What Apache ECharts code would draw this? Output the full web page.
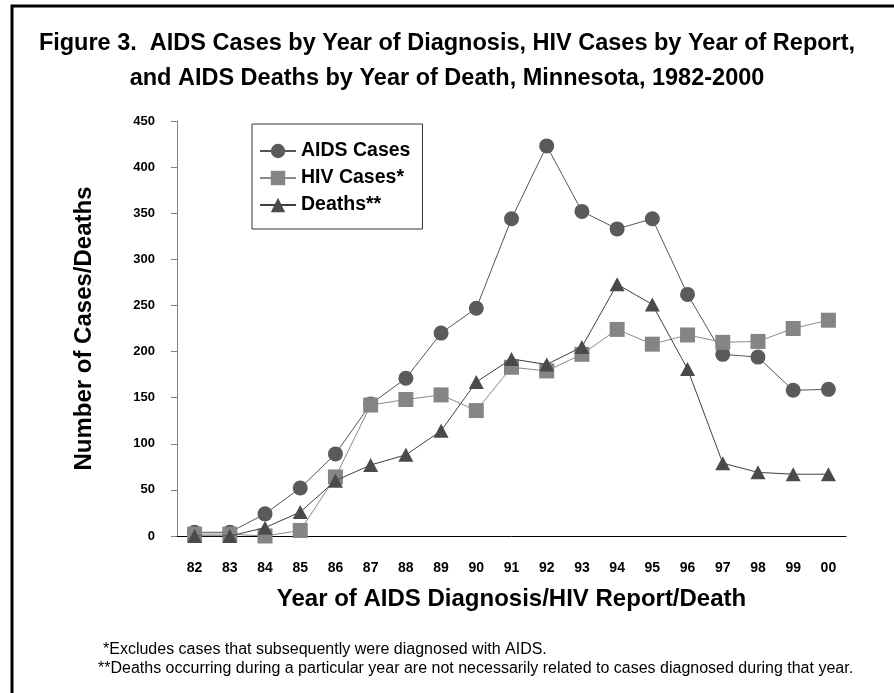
<!DOCTYPE html>
<html>
<head>
<meta charset="utf-8">
<script src="https://cdn.jsdelivr.net/npm/echarts@6/dist/echarts.min.js"></script>
<style>
    html, body {
        margin: 0;
        padding: 0;
        background: #fff;
    }
    #chart {
        width: 894px;
        height: 693px;
    }
</style>
</head>
<body>
<div id="chart"></div>
<script>
// year labels on the x axis
const years = ["82", "83", "84", "85", "86", "87", "88", "89", "90", "91",
    "92", "93", "94", "95", "96", "97", "98", "99", "00"];

// values
const aids_cases = [4, 4, 24, 52, 89, 143, 171, 220, 247, 344,
    423, 352, 333, 344, 262, 197, 194, 158, 159];
const hiv_cases = [2, 2, 0, 6, 64, 142, 148, 153, 136, 183,
    179, 197, 224, 208, 218, 210, 211, 225, 234];
const deaths = [0, 0, 9, 26, 60, 77, 88, 114, 167, 192,
    186, 205, 273, 251, 181, 79, 69, 67, 67];

const font = "'Liberation Sans', Arial, sans-serif";

let chart = echarts.init(document.getElementById("chart"));
chart.setOption({
    animation: false,
    title: {
        text: "Figure 3.  AIDS Cases by Year of Diagnosis, HIV Cases by Year of Report,\nand AIDS Deaths by Year of Death, Minnesota, 1982-2000",
        left: "center",
        top: 21,
        textStyle: {
            fontFamily: font,
            fontSize: 23.5,
            fontWeight: "bold",
            color: "#000",
            lineHeight: 35,
        },
    },
    legend: {
        orient: "vertical",
        left: 252,
        top: 124,
        padding: [17, 12, 14, 7],
        borderColor: "#333",
        borderWidth: 1,
        itemWidth: 36,
        itemHeight: 18,
        itemGap: 7,
        textStyle: {
            fontFamily: font,
            fontSize: 19.5,
            fontWeight: "bold",
            color: "#000",
            lineHeight: 18,
        },
        data: ["AIDS Cases", "HIV Cases*", "Deaths**"],
    },
    grid: {
        left: 177,
        top: 121,
        width: 669,
        height: 415,
    },
    xAxis: {
        type: "category",
        data: years,
        boundaryGap: true,
        name: "Year of AIDS Diagnosis/HIV Report/Death",
        nameLocation: "middle",
        nameGap: 51,
        nameTextStyle: {
            fontFamily: font,
            fontSize: 24,
            fontWeight: "bold",
            color: "#000",
        },
        axisLine: { lineStyle: { color: "#000", width: 1 } },
        axisTick: { interval: 0, length: 5, lineStyle: { color: "#000" } },
        axisLabel: {
            interval: 0,
            margin: 25,
            fontFamily: font,
            fontSize: 14,
            fontWeight: "bold",
            color: "#000",
        },
        splitLine: { show: false },
    },
    yAxis: {
        type: "value",
        min: 0,
        max: 450,
        interval: 50,
        name: "Number of Cases/Deaths",
        nameLocation: "middle",
        nameGap: 81,
        nameTextStyle: {
            fontFamily: font,
            fontSize: 24,
            fontWeight: "bold",
            color: "#000",
        },
        axisLine: { show: true, lineStyle: { color: "#808080", width: 1 } },
        axisTick: { show: true, length: 6, lineStyle: { color: "#808080" } },
        axisLabel: {
            margin: 22,
            fontFamily: font,
            fontSize: 13,
            fontWeight: "bold",
            color: "#000",
        },
        splitLine: { show: false },
    },
    graphic: [
        {
            type: "rect",
            shape: { x: 12, y: 6, width: 900, height: 700 },
            style: { fill: "none", stroke: "#000", lineWidth: 3 },
        },
        {
            type: "text",
            left: 103,
            top: 642,
            style: {
                text: "*Excludes cases that subsequently were diagnosed with AIDS.",
                font: "16px " + font,
                fill: "#000",
            },
        },
        {
            type: "text",
            left: 98,
            top: 661,
            style: {
                text: "**Deaths occurring during a particular year are not necessarily related to cases diagnosed during that year.",
                font: "16px " + font,
                fill: "#000",
            },
        },
    ],
    series: [
        {
            name: "AIDS Cases",
            type: "line",
            data: aids_cases,
            symbol: "circle",
            symbolSize: 15,
            z: 3,
            itemStyle: { color: "#5a5a5a" },
            lineStyle: { color: "#555", width: 1 },
        },
        {
            name: "HIV Cases*",
            type: "line",
            data: hiv_cases,
            symbol: "rect",
            symbolSize: 15,
            z: 4,
            itemStyle: { color: "#858585" },
            lineStyle: { color: "#8a8a8a", width: 1 },
        },
        {
            name: "Deaths**",
            type: "line",
            data: deaths,
            symbol: "triangle",
            symbolSize: [15, 14],
            z: 5,
            itemStyle: { color: "#4a4a4a" },
            lineStyle: { color: "#404040", width: 1 },
        },
    ],
});
</script>
</body>
</html>
